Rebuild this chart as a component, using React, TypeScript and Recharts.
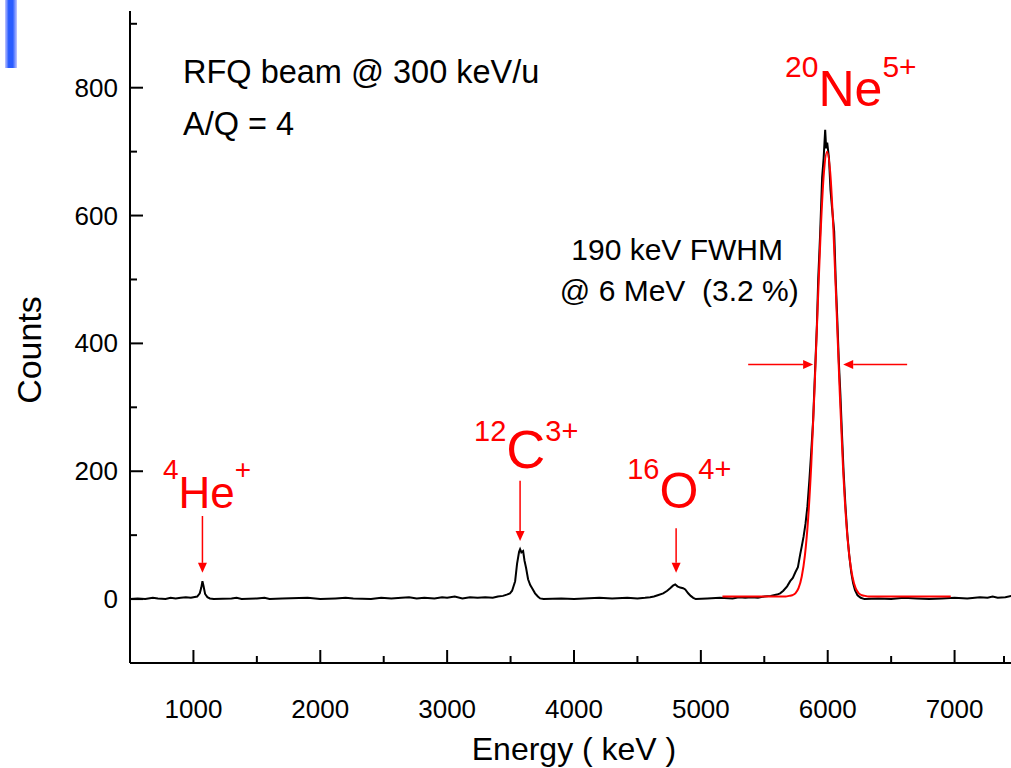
import {
  LineChart,
  Line,
  XAxis,
  YAxis,
  ReferenceDot,
  ReferenceLine,
} from "recharts";

// measured spectrum (keV, counts)
const spectrumEnergy = [
  500, 560, 620, 680, 720, 780, 820, 860, 900, 940, 980, 1000, 1030, 1050, 1062, 1071, 1080, 1092, 1110, 1130,
  1160, 1300, 1340, 1380, 1500, 1560, 1600, 1700, 1900, 2000, 2120, 2200, 2260, 2400, 2480, 2560, 2640, 2700,
  2760, 2820, 2900, 2960, 3000, 3060, 3120, 3180, 3240, 3300, 3360, 3400, 3440, 3470, 3495, 3512, 3536, 3551,
  3567, 3575, 3585, 3599, 3610, 3622, 3638, 3655, 3670, 3693, 3715, 3733, 3760, 3900, 4000, 4200, 4300, 4420,
  4500, 4560, 4600, 4630, 4660, 4703, 4735, 4758, 4780, 4798, 4815, 4837, 4860, 4877, 4900, 4920, 4940, 4960,
  5050, 5150, 5250, 5300, 5350, 5400, 5450, 5500, 5550, 5600, 5625, 5650, 5680, 5704, 5725, 5745, 5765, 5783,
  5795, 5810, 5825, 5840, 5855, 5870, 5885, 5900, 5915, 5925, 5940, 5956, 5968, 5980, 5988, 5996, 6010, 6022,
  6035, 6051, 6063, 6075, 6088, 6100, 6112, 6125, 6140, 6155, 6170, 6185, 6200, 6215, 6235, 6260, 6290, 6400,
  6500, 6600, 6700, 6800, 6900, 7000, 7100, 7200, 7260, 7300, 7340, 7400, 7450, 7500,
];
const spectrumCounts = [
  0, 1, 0, 2, 1, 0, 2, 1, 2, 3, 2, 3, 4, 9, 18, 28, 20, 8, 3, 1,
  0, 1, 2, 0, 1, 2, 0, 1, 2, 0, 1, 2, 1, 0, 2, 1, 2, 3,
  1, 2, 1, 3, 2, 4, 1, 3, 2, 3, 2, 4, 5, 7, 9, 13, 28, 55,
  74, 78, 73, 75, 60, 49, 31, 22, 17, 9, 4, 1, 0, 1, 0, 2, 1, 2,
  1, 2, 3, 4, 6, 9, 13, 17, 21, 23, 20, 18, 17, 15, 9, 5, 2, 0,
  1, 2, 1, 3, 2, 3, 2, 4, 5, 7, 9, 13, 20, 28, 33, 42, 50, 70,
  82, 98, 118, 145, 185, 230, 280, 355, 430, 500, 570, 660, 690, 734, 705, 714, 690, 640,
  610, 575, 500, 440, 370, 320, 260, 200, 145, 100, 68, 42, 25, 14, 6, 2, 0, 1,
  0, 2, 1, 0, 1, 2, 1, 3, 2, 4, 2, 3, 5, 3,
];

// gaussian fit drawn in red
const fitEnergy = [
  5170, 5600, 5670, 5695, 5720, 5745, 5770, 5795, 5820, 5845, 5870, 5895, 5920, 5945, 5970, 5995,
  6020, 6045, 6070, 6095, 6120, 6145, 6170, 6195, 6220, 6245, 6270, 6295, 6320, 6970,
];
const fitCounts = [
  4, 4, 4, 5, 6, 9, 17, 35, 68, 124, 209, 323, 452, 577, 667, 700,
  667, 577, 452, 323, 209, 124, 68, 35, 17, 9, 6, 5, 4, 4,
];

const xTicks = [500, 1000, 1500, 2000, 2500, 3000, 3500, 4000, 4500, 5000, 5500, 6000, 6500, 7000, 7500];
const yTicks = [-100, 0, 100, 200, 300, 400, 500, 600, 700, 800, 900];
const xLabels = [1000, 2000, 3000, 4000, 5000, 6000, 7000];
const yLabels = [0, 200, 400, 600, 800];

// ion labels: isotope mass, element, charge
const ions = [
  { mass: "4", el: "He", charge: "+", x: 760, y: 188, big: 44, small: 28, dy: 29 },
  { mass: "12", el: "C", charge: "3+", x: 3212, y: 248, big: 54, small: 29, dy: 27 },
  { mass: "16", el: "O", charge: "4+", x: 4419, y: 188, big: 50, small: 29, dy: 29 },
  { mass: "20", el: "Ne", charge: "5+", x: 5664, y: 816, big: 50, small: 30, dy: 29 },
];

const arrows = [
  { x1: 1071, y1: 130, x2: 1071, y2: 41 },
  { x1: 3575, y1: 185, x2: 3575, y2: 91 },
  { x1: 4805, y1: 111, x2: 4805, y2: 41 },
  { x1: 5373, y1: 367, x2: 5885, y2: 367 },
  { x1: 6626, y1: 367, x2: 6122, y2: 367 },
];

const notes = [
  { text: "RFQ beam @ 300 keV/u", x: 918, y: 808, anchor: "start", size: 32.5 },
  { text: "A/Q = 4", x: 918, y: 726, anchor: "start", size: 32.5 },
  { text: "190 keV FWHM", x: 4813, y: 530, anchor: "middle", size: 30 },
  { text: "@ 6 MeV  (3.2 %)", x: 4830, y: 466, anchor: "middle", size: 30 },
];

const FONT = "'Liberation Sans', Arial, sans-serif";

const spectrum = spectrumEnergy.map((e, i) => ({ e, c: spectrumCounts[i] }));
const fit = fitEnergy.map((e, i) => ({ e, c: fitCounts[i] }));

function BottomTick(props: any) {
  const { x, y, payload } = props;
  const major = xLabels.includes(payload.value);
  return (
    <g>
      <line x1={x} x2={x} y1={y} y2={y - (major ? 13 : 7)} stroke="#000" strokeWidth={2} />
      {major && (
        <text x={x} y={y + 55} textAnchor="middle" fontSize={26} fontFamily={FONT} fill="#000">
          {payload.value}
        </text>
      )}
    </g>
  );
}

function TopTick(props: any) {
  const { x, y, payload } = props;
  const major = xLabels.includes(payload.value);
  return <line x1={x} x2={x} y1={y} y2={y + (major ? 13 : 7)} stroke="#000" strokeWidth={2} />;
}

function LeftTick(props: any) {
  const { x, y, payload } = props;
  const major = yLabels.includes(payload.value);
  return (
    <g>
      <line x1={x} x2={x + (major ? 13 : 7)} y1={y} y2={y} stroke="#000" strokeWidth={2} />
      {major && (
        <text x={x - 12} y={y + 9} textAnchor="end" fontSize={26} fontFamily={FONT} fill="#000">
          {payload.value}
        </text>
      )}
    </g>
  );
}

function arrowShape(p: any) {
  const { x1, y1, x2, y2 } = p;
  const dx = x2 - x1;
  const dy = y2 - y1;
  const len = Math.hypot(dx, dy) || 1;
  const ux = dx / len;
  const uy = dy / len;
  const bx = x2 - ux * 10;
  const by = y2 - uy * 10;
  return (
    <g>
      <line x1={x1} y1={y1} x2={bx} y2={by} stroke="#ff0000" strokeWidth={1.5} />
      <polygon
        points={`${x2},${y2} ${bx - uy * 4.5},${by + ux * 4.5} ${bx + uy * 4.5},${by - ux * 4.5}`}
        fill="#ff0000"
      />
    </g>
  );
}

export default function App() {
  return (
    <div
      style={{
        position: "absolute",
        left: 0,
        top: 0,
        width: 1011,
        height: 768,
        overflow: "hidden",
        background: "#fff",
        fontFamily: FONT,
      }}
    >
      <div
        style={{
          position: "absolute",
          left: 5,
          top: 0,
          width: 12,
          height: 68,
          background: "linear-gradient(to right, #c4c8ff, #2a5cff 30%, #2a5cff 65%, #c4c8ff)",
        }}
      />
      <LineChart width={1020} height={768} margin={{ top: 11, right: 2, bottom: 0, left: 0 }}>
        <XAxis
          dataKey="e"
          type="number"
          domain={[500, 7500]}
          ticks={xTicks}
          allowDataOverflow
          height={105}
          tickSize={0}
          tickMargin={0}
          tick={BottomTick}
          axisLine={{ stroke: "#000", strokeWidth: 2 }}
          label={{
            content: () => (
              <text x={574} y={760} textAnchor="middle" fontSize={32} fontFamily={FONT} fill="#000">
                Energy ( keV )
              </text>
            ),
          }}
        />
        <XAxis
          xAxisId="top"
          orientation="top"
          dataKey="e"
          type="number"
          domain={[500, 7500]}
          ticks={xTicks}
          allowDataOverflow
          height={0}
          tickSize={0}
          tickMargin={0}
          tick={TopTick}
          axisLine={{ stroke: "#000", strokeWidth: 2 }}
        />
        <YAxis
          type="number"
          domain={[-100, 920]}
          ticks={yTicks}
          allowDataOverflow
          width={130}
          tickSize={0}
          tickMargin={0}
          tick={LeftTick}
          axisLine={{ stroke: "#000", strokeWidth: 2 }}
          label={{
            content: () => (
              <text
                x={29}
                y={350}
                transform="rotate(-90, 29, 350)"
                textAnchor="middle"
                dominantBaseline="central"
                fontSize={34}
                fontFamily={FONT}
                fill="#000"
              >
                Counts
              </text>
            ),
          }}
        />
        <Line
          data={spectrum}
          dataKey="c"
          type="linear"
          stroke="#000"
          strokeWidth={2}
          dot={false}
          isAnimationActive={false}
        />
        <Line
          data={fit}
          dataKey="c"
          type="monotone"
          stroke="#ff0000"
          strokeWidth={2}
          dot={false}
          isAnimationActive={false}
        />
        {arrows.map((a, i) => (
          <ReferenceLine
            key={"a" + i}
            segment={[
              { x: a.x1, y: a.y1 },
              { x: a.x2, y: a.y2 },
            ]}
            ifOverflow="visible"
            shape={arrowShape}
          />
        ))}
        {notes.map((n, i) => (
          <ReferenceDot
            key={"n" + i}
            x={n.x}
            y={n.y}
            r={0}
            ifOverflow="visible"
            shape={(p: any) => (
              <text
                x={p.cx}
                y={p.cy}
                textAnchor={n.anchor}
                fontSize={n.size}
                fontFamily={FONT}
                fill="#000"
                style={{ whiteSpace: "pre" }}
              >
                {n.text}
              </text>
            )}
          />
        ))}
        {ions.map((ion, i) => (
          <ReferenceDot
            key={"i" + i}
            x={ion.x}
            y={ion.y}
            r={0}
            ifOverflow="visible"
            shape={(p: any) => (
              <text x={p.cx} y={p.cy} fill="#ff0000" fontFamily={FONT}>
                <tspan fontSize={ion.small}>{ion.mass}</tspan>
                <tspan fontSize={ion.big} dy={ion.dy}>
                  {ion.el}
                </tspan>
                <tspan fontSize={ion.small} dy={-ion.dy}>
                  {ion.charge}
                </tspan>
              </text>
            )}
          />
        ))}
      </LineChart>
    </div>
  );
}
